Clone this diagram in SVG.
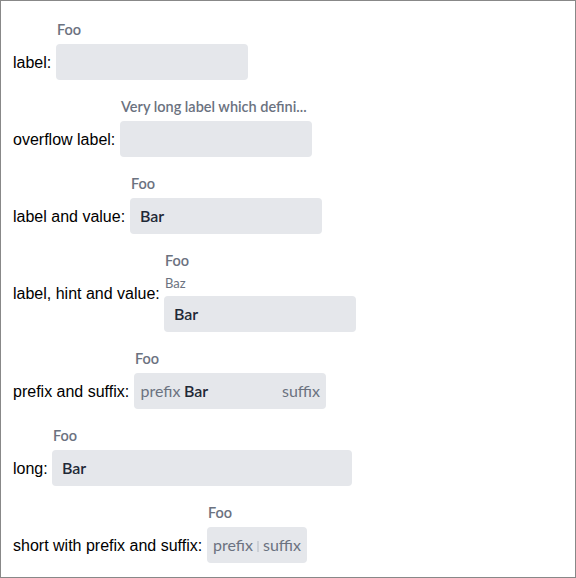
<svg xmlns="http://www.w3.org/2000/svg" width="576" height="578" viewBox="0 0 576 578">
<style>
.frame{fill:#fff;stroke:#888;stroke-width:1}
.lbl{font-family:"Liberation Sans",Arial,sans-serif;font-size:16px;fill:#000}
.cap{font-family:Lato,"Noto Sans",sans-serif;font-size:14.5px;font-weight:600;fill:#6b7280}
.hint{font-family:Lato,"Noto Sans",sans-serif;font-size:13px;fill:#6b7280}
.fld{fill:#e5e7eb}
.val{font-family:Lato,"Noto Sans",sans-serif;font-size:16px;font-weight:600;fill:#1f2937}
.aff{font-family:Lato,"Noto Sans",sans-serif;font-size:16px;fill:#6b7280}
.sep{fill:#b4b9c1}
</style>
<rect class="frame" x="0.5" y="0.5" width="575" height="577"/>
<g id="row-label">
<text class="lbl" x="13" y="68">label:</text>
<text class="cap" x="57" y="35">Foo</text>
<rect class="fld" x="56" y="44" width="192" height="36" rx="4"/>
</g>
<g id="row-overflow">
<text class="lbl" x="13" y="145">overflow label:</text>
<text class="cap" x="121" y="112">Very long label which defini...</text>
<rect class="fld" x="120" y="121" width="192" height="36" rx="4"/>
</g>
<g id="row-label-value">
<text class="lbl" x="13" y="222">label and value:</text>
<text class="cap" x="131" y="189">Foo</text>
<rect class="fld" x="130" y="198" width="192" height="36" rx="4"/>
<text class="val" x="140" y="222">Bar</text>
</g>
<g id="row-label-hint-value">
<text class="lbl" x="13" y="299">label, hint and value:</text>
<text class="cap" x="165" y="266">Foo</text>
<text class="hint" x="165" y="288">Baz</text>
<rect class="fld" x="164" y="296" width="192" height="36" rx="4"/>
<text class="val" x="174" y="320">Bar</text>
</g>
<g id="row-prefix-suffix">
<text class="lbl" x="13" y="397">prefix and suffix:</text>
<text class="cap" x="135" y="364">Foo</text>
<rect class="fld" x="134" y="373" width="192" height="36" rx="4"/>
<text class="aff" x="140.5" y="397">prefix</text>
<text class="val" x="184" y="397">Bar</text>
<text class="aff" x="320" y="397" text-anchor="end">suffix</text>
</g>
<g id="row-long">
<text class="lbl" x="13" y="474">long:</text>
<text class="cap" x="53" y="441">Foo</text>
<rect class="fld" x="52" y="450" width="300" height="36" rx="4"/>
<text class="val" x="62" y="474">Bar</text>
</g>
<g id="row-short">
<text class="lbl" x="13" y="551">short with prefix and suffix:</text>
<text class="cap" x="208" y="518">Foo</text>
<rect class="fld" x="207" y="527" width="100" height="36" rx="4"/>
<text class="aff" x="213" y="551">prefix</text>
<rect class="sep" x="257.5" y="541" width="1" height="11"/>
<text class="aff" x="301" y="551" text-anchor="end">suffix</text>
</g>
</svg>
